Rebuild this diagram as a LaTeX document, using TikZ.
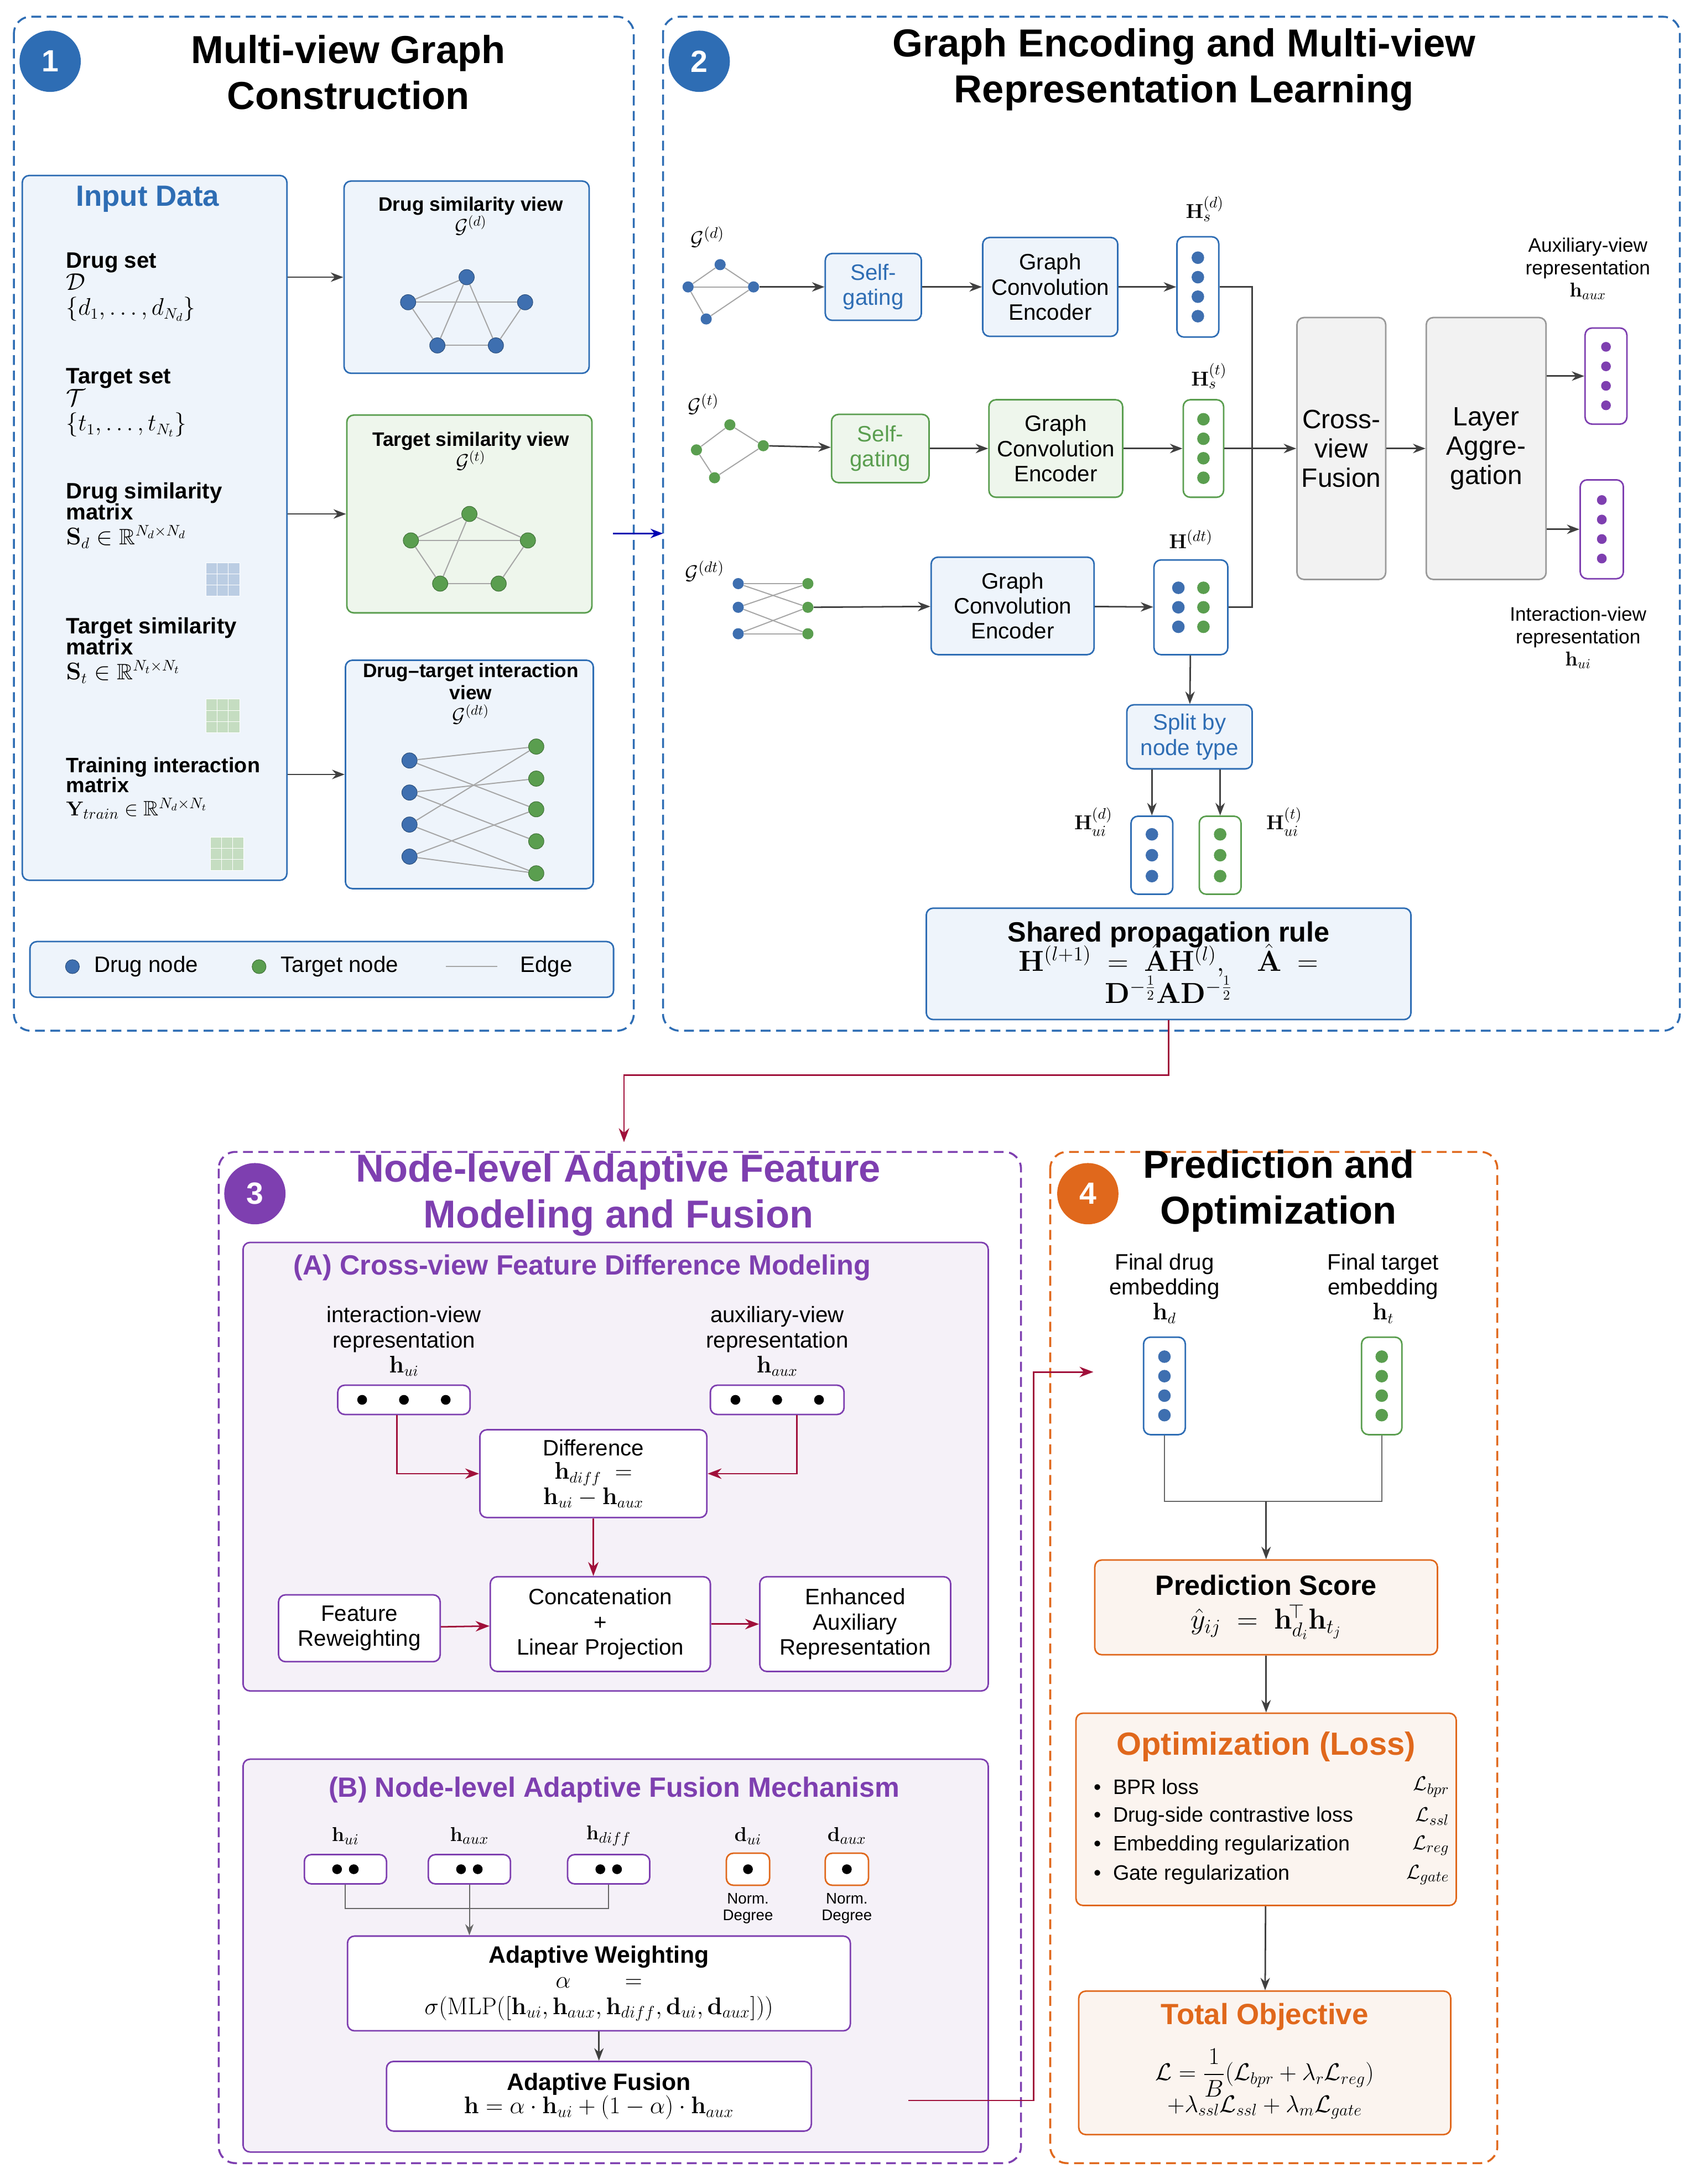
\documentclass[tikz,border=0pt]{standalone}
\usepackage[no-math]{fontspec}
\setmainfont{Liberation Sans}
\usepackage{amsmath,amssymb}
\usetikzlibrary{arrows.meta,positioning,calc}
\definecolor{cblue}{HTML}{2E6DB4}
\definecolor{cdrug}{HTML}{3E6FB0}
\definecolor{cgreen}{HTML}{5A9E4F}
\definecolor{cpurple}{HTML}{7E3FB0}
\definecolor{corange}{HTML}{E0681C}
\definecolor{cred}{HTML}{A0103A}
\definecolor{lblue}{HTML}{EEF4FB}
\definecolor{lgreen}{HTML}{EEF6EC}
\definecolor{lpurple}{HTML}{F5F1F8}
\definecolor{lorange}{HTML}{FBF4EF}
\tikzset{
  panel/.style={draw=#1, dash pattern=on 7pt off 4pt, line width=1.4pt, rounded corners=12pt},
  badge/.style={circle, fill=#1, text=white, minimum size=44pt, inner sep=0pt, font=\fontsize{22}{24}\selectfont\bfseries},
  ptitle/.style={align=center, font=\fontsize{28}{33}\selectfont\bfseries},
  box/.style={draw=#1, line width=1.1pt, rounded corners=5pt, align=center, font=\fontsize{16}{18}\selectfont},
  vec/.style={draw=#1, line width=1.1pt, rounded corners=5pt, fill=white, inner sep=0pt},
  dn/.style={circle, fill=cdrug, draw=cdrug!70!black, inner sep=0pt, minimum size=11pt},
  tn/.style={circle, fill=cgreen, draw=cgreen!70!black, inner sep=0pt, minimum size=11pt},
  sn/.style={circle, fill=cdrug, inner sep=0pt, minimum size=8pt},
  edge/.style={draw=gray!70, line width=0.8pt},
  arr/.style={-{Stealth[length=9pt]}, line width=1.1pt, draw=black!75},
  rarr/.style={-{Stealth[length=10pt]}, line width=1.1pt, draw=cred},
  lbl/.style={align=center, font=\fontsize{15}{17}\selectfont},
}
\begin{document}
\begin{tikzpicture}[x=1pt,y=-1pt]
\useasboundingbox[fill=white] (0,0) rectangle (1213,1568);

% panel 1
\draw[panel=cblue] (10,12) rectangle (455,740);
\node[badge=cblue] (b1) at (36,44) {1};
\node[ptitle] (t1) at (250,52) {Multi-view Graph\\Construction};
\node[box=cblue, fill=lblue, minimum width=190pt, minimum height=506pt] (inp) at (111,379) {};
\node[font=\fontsize{21}{23}\selectfont\bfseries, text=cblue] (inpt) at (106,143) {Input Data};
\node[lbl, anchor=west, align=left, font=\fontsize{16}{18}\selectfont] (ds) at (44,206) {\textbf{Drug set}\\[-2pt]$\mathcal{D}$\\$\{d_1,\ldots,d_{N_d}\}$};
\node[lbl, anchor=west, align=left, font=\fontsize{16}{18}\selectfont] (ts) at (44,289) {\textbf{Target set}\\[-2pt]$\mathcal{T}$\\$\{t_1,\ldots,t_{N_t}\}$};
\node[lbl, anchor=west, align=left, font=\fontsize{16}{18}\selectfont] (dsm) at (44,370) {\textbf{Drug similarity}\\[-3pt]\textbf{matrix}\\$\mathbf{S}_d\in\mathbb{R}^{N_d\times N_d}$};
\node[lbl, anchor=west, align=left, font=\fontsize{16}{18}\selectfont] (tsm) at (44,467) {\textbf{Target similarity}\\[-3pt]\textbf{matrix}\\$\mathbf{S}_t\in\mathbb{R}^{N_t\times N_t}$};
\node[lbl, anchor=west, align=left, font=\fontsize{15}{17}\selectfont] (tim) at (44,566) {\textbf{Training interaction}\\[-3pt]\textbf{matrix}\\$\mathbf{Y}_{train}\in\mathbb{R}^{N_d\times N_t}$};
% small matrices
\foreach \mx/\my/\mc in {148/404/cdrug, 148/502/cgreen, 151/601/cgreen}
  \foreach \i in {0,1,2}
    \foreach \j in {0,1,2}
      \fill[\mc!35!white, draw=white] (\mx+\i*8,\my+\j*8) rectangle ++(8,8);

\node[box=cblue, fill=lblue, minimum width=176pt, minimum height=138pt] (dv) at (335,199) {};
\node[font=\fontsize{14}{16}\selectfont\bfseries, align=center] (dvt) at (338,155) {Drug similarity view\\$\mathcal{G}^{(d)}$};
\node[dn] (d1) at (335,199) {}; \node[dn] (d2) at (293,217) {}; \node[dn] (d3) at (377,217) {};
\node[dn] (d4) at (314,248) {}; \node[dn] (d5) at (356,248) {};
\foreach \u/\v in {d1/d2,d1/d4,d1/d5,d2/d3,d2/d4,d4/d5,d3/d5} \draw[edge] (\u) -- (\v);

\node[box=cgreen, fill=lgreen, minimum width=176pt, minimum height=142pt] (tv) at (337,369) {};
\node[font=\fontsize{14}{16}\selectfont\bfseries, align=center] (tvt) at (338,324) {Target similarity view\\$\mathcal{G}^{(t)}$};
\node[tn] (g1) at (337,369) {}; \node[tn] (g2) at (295,388) {}; \node[tn] (g3) at (379,388) {};
\node[tn] (g4) at (316,419) {}; \node[tn] (g5) at (358,419) {};
\foreach \u/\v in {g1/g2,g1/g4,g1/g3,g2/g3,g2/g4,g4/g5,g3/g5} \draw[edge] (\u) -- (\v);

\node[box=cblue, fill=lblue, minimum width=178pt, minimum height=164pt] (iv) at (337,556) {};
\node[font=\fontsize{14}{16}\selectfont\bfseries, align=center] (ivt) at (338,498) {Drug--target interaction\\view\\$\mathcal{G}^{(dt)}$};
\foreach \k/\y in {1/546,2/569,3/592,4/615} \node[dn] (l\k) at (294,\y) {};
\foreach \k/\y in {1/536,2/559,3/581,4/604,5/627} \node[tn] (r\k) at (385,\y) {};
\foreach \u/\v in {l1/r1,l1/r3,l2/r2,l2/r4,l3/r1,l3/r5,l4/r3,l4/r5} \draw[edge] (\u) -- (\v);

\draw[arr] (inp.east |- dv.west) -- (dv.west);
\draw[arr] (inp.east |- tv.west) -- (tv.west);
\draw[arr] (inp.east |- iv.west) -- (iv.west);

\node[box=cblue, fill=lblue, minimum width=419pt, minimum height=40pt] (leg) at (231,696) {};
\node[dn, minimum size=10pt] (lg1) at (52,694) {};
\node[lbl, font=\fontsize{16}{18}\selectfont, anchor=west] (lg1t) at (64,694) {Drug node};
\node[tn, minimum size=10pt] (lg2) at (186,694) {};
\node[lbl, font=\fontsize{16}{18}\selectfont, anchor=west] (lg2t) at (198,694) {Target node};
\coordinate (lg3) at (320,694); \coordinate (lg3e) at (357,694);
\draw[edge] (lg3) -- (lg3e);
\node[lbl, font=\fontsize{16}{18}\selectfont, anchor=west] (lg3t) at (370,694) {Edge};

% panel 2
\draw[panel=cblue] (476,12) rectangle (1206,740);
\coordinate (pa) at (440,383); \coordinate (pb) at (476,383);
\draw[-{Stealth[length=9pt]}, line width=1.1pt, draw=blue!70!black] (pa) -- (pb);
\node[badge=cblue] (b2) at (502,44) {2};
\node[ptitle] (t2) at (850,50) {Graph Encoding and Multi-view\\Representation Learning};

% row 1
\node[font=\fontsize{15}{17}\selectfont] (gdl) at (508,170) {$\mathcal{G}^{(d)}$};
\node[sn] (p1) at (517,190) {}; \node[sn] (p2) at (494,206) {}; \node[sn] (p3) at (541,206) {}; \node[sn] (p4) at (507,229) {};
\foreach \u/\v in {p1/p2,p1/p3,p2/p3,p2/p4,p4/p3} \draw[edge] (\u) -- (\v);
\node[box=cblue, fill=lblue, text=cblue, minimum width=69pt, minimum height=48pt] (sg1) at (627,206) {Self-\\gating};
\node[box=cblue, fill=lblue, minimum width=97pt, minimum height=71pt] (gc1) at (754,206) {Graph\\Convolution\\Encoder};
\node[vec=cblue, minimum width=30pt, minimum height=72pt] (hs1) at (860,206) {};
\foreach \y in {-21,-7,7,21} \fill[cdrug] ($(hs1)+(0,\y)$) circle (4.5pt);
\node[font=\fontsize{15}{17}\selectfont] (hs1l) at (865,150) {$\mathbf{H}_s^{(d)}$};
\draw[arr] (p3) -- (sg1);
\draw[arr] (sg1) -- (gc1);
\draw[arr] (gc1) -- (hs1);

% row 2
\node[font=\fontsize{15}{17}\selectfont] (gtl) at (505,290) {$\mathcal{G}^{(t)}$};
\tikzset{sn/.append style={fill=cgreen}}
\node[sn] (q1) at (524,305) {}; \node[sn] (q2) at (500,323) {}; \node[sn] (q3) at (548,320) {}; \node[sn] (q4) at (513,343) {};
\foreach \u/\v in {q1/q2,q1/q3,q2/q4,q4/q3} \draw[edge] (\u) -- (\v);
\node[box=cgreen, fill=lgreen, text=cgreen, minimum width=70pt, minimum height=49pt] (sg2) at (632,322) {Self-\\gating};
\node[box=cgreen, fill=lgreen, minimum width=96pt, minimum height=70pt] (gc2) at (758,322) {Graph\\Convolution\\Encoder};
\node[vec=cgreen, minimum width=29pt, minimum height=70pt] (hs2) at (864,322) {};
\foreach \y in {-21,-7,7,21} \fill[cgreen] ($(hs2)+(0,\y)$) circle (4.5pt);
\node[font=\fontsize{15}{17}\selectfont] (hs2l) at (868,270) {$\mathbf{H}_s^{(t)}$};
\draw[arr] (q3) -- (sg2);
\draw[arr] (sg2) -- (gc2);
\draw[arr] (gc2) -- (hs2);

% row 3
\node[font=\fontsize{15}{17}\selectfont] (gdtl) at (506,410) {$\mathcal{G}^{(dt)}$};
\foreach \k/\y in {1/419,2/436,3/455} {
  \node[sn, fill=cdrug] (u\k) at (530,\y) {};
  \node[sn] (w\k) at (580,\y) {};
}
\foreach \u/\v in {u1/w1,u1/w2,u2/w1,u2/w3,u3/w2,u3/w3} \draw[edge] (\u) -- (\v);
\node[box=cblue, fill=lblue, minimum width=117pt, minimum height=70pt] (gc3) at (727,435) {Graph\\Convolution\\Encoder};
\node[vec=cblue, minimum width=53pt, minimum height=68pt] (hdt) at (855,436) {};
\foreach \y in {-14,0,14} {
  \fill[cdrug] ($(hdt)+(-9,\y)$) circle (4.5pt);
  \fill[cgreen] ($(hdt)+(9,\y)$) circle (4.5pt);
}
\node[font=\fontsize{15}{17}\selectfont] (hdtl) at (855,387) {$\mathbf{H}^{(dt)}$};
\draw[arr] (w2) -- (gc3);
\draw[arr] (gc3) -- (hdt);

% fusion
\node[box=black!40, fill=black!5, minimum width=61pt, minimum height=188pt, font=\fontsize{19}{21}\selectfont] (cvf) at (963,322) {Cross-\\view\\Fusion};
\node[box=black!40, fill=black!5, minimum width=86pt, minimum height=188pt, font=\fontsize{19}{21}\selectfont] (lag) at (1067,322) {Layer\\Aggre-\\gation};
\coordinate (mg) at (899,322);
\draw[line width=1.1pt, black!75] (hs1.east) -| (mg);
\draw[line width=1.1pt, black!75] (hdt.east) -| (mg);
\draw[arr] (hs2.east) -- (cvf.west |- mg);
\draw[arr] (cvf) -- (lag);
\node[vec=cpurple, minimum width=30pt, minimum height=69pt] (haux) at (1153,270) {};
\node[vec=cpurple, minimum width=31pt, minimum height=71pt] (hui) at (1150,380) {};
\foreach \y in {-21,-7,7,21} {
  \fill[cpurple] ($(haux)+(0,\y)$) circle (3.5pt);
  \fill[cpurple] ($(hui)+(0,\y)$) circle (3.5pt);
}
\draw[arr] (lag.east |- haux) -- (haux);
\draw[arr] (lag.east |- hui) -- (hui);
\node[lbl, font=\fontsize{14}{16}\selectfont] (hauxl) at (1140,193) {Auxiliary-view\\representation\\$\mathbf{h}_{aux}$};
\node[lbl, font=\fontsize{14}{16}\selectfont] (huil) at (1133,458) {Interaction-view\\representation\\$\mathbf{h}_{ui}$};

% split
\node[box=cblue, fill=lblue, text=cblue, minimum width=90pt, minimum height=46pt] (spl) at (854,529) {Split by\\node type};
\draw[arr] (hdt) -- (spl);
\node[vec=cblue, minimum width=30pt, minimum height=56pt] (hud) at (827,614) {};
\node[vec=cgreen, minimum width=30pt, minimum height=56pt] (hut) at (876,614) {};
\foreach \y in {-15,0,15} {
  \fill[cdrug] ($(hud)+(0,\y)$) circle (4.5pt);
  \fill[cgreen] ($(hut)+(0,\y)$) circle (4.5pt);
}
\draw[arr] (spl.south -| hud) -- (hud);
\draw[arr] (spl.south -| hut) -- (hut);
\node[font=\fontsize{15}{17}\selectfont] (hudl) at (785,590) {$\mathbf{H}_{ui}^{(d)}$};
\node[font=\fontsize{15}{17}\selectfont] (hutl) at (922,590) {$\mathbf{H}_{ui}^{(t)}$};
\node[box=cblue, fill=lblue, minimum width=348pt, minimum height=80pt] (spr) at (839,692) {};
\node[align=center, font=\fontsize{20}{24}\selectfont] (sprt) at (839,691) {\textbf{Shared propagation rule}\\[-3pt]
  $\mathbf{H}^{(l+1)}\;=\;\hat{\mathbf{A}}\mathbf{H}^{(l)},\quad\hat{\mathbf{A}}\;=$\\[-1pt]
  $\mathbf{D}^{-\frac12}\mathbf{A}\mathbf{D}^{-\frac12}$};

% panel 3
\draw[panel=cpurple] (157,827) rectangle (733,1553);
\node[badge=cpurple] (b3) at (183,857) {3};
\node[ptitle, text=cpurple] (t3) at (444,858) {Node-level Adaptive Feature\\Modeling and Fusion};
\coordinate (k1) at (448,772); \coordinate (k2) at (448,820);
\draw[rarr] (spr.south) |- (k1) -- (k2);

\node[box=cpurple, fill=lpurple, minimum width=535pt, minimum height=322pt] (sa) at (442,1053) {};
\node[font=\fontsize{20}{22}\selectfont\bfseries, text=cpurple] (sat) at (418,910) {(A) Cross-view Feature Difference Modeling};
\node[lbl, font=\fontsize{16}{18}\selectfont] (iul) at (290,963) {interaction-view\\representation\\$\mathbf{h}_{ui}$};
\node[lbl, font=\fontsize{16}{18}\selectfont] (aul) at (558,963) {auxiliary-view\\representation\\$\mathbf{h}_{aux}$};
\node[vec=cpurple, minimum width=95pt, minimum height=21pt] (va) at (290,1005) {};
\node[vec=cpurple, minimum width=96pt, minimum height=21pt] (vb) at (558,1005) {};
\foreach \x in {-30,0,30} {
  \fill ($(va)+(\x,0)$) circle (3.5pt);
  \fill ($(vb)+(\x,0)$) circle (3.5pt);
}
\node[box=cpurple, fill=white, minimum width=163pt, minimum height=63pt, font=\fontsize{16}{19}\selectfont] (dif) at (426,1058) {Difference\\[-2pt]$\mathbf{h}_{diff}\;=$\\[-1pt]$\mathbf{h}_{ui}-\mathbf{h}_{aux}$};
\draw[rarr] ($(va.south)+(-5,0)$) |- (dif.west);
\draw[rarr] ($(vb.south)+(14,0)$) |- (dif.east);
\node[box=cpurple, fill=white, minimum width=158pt, minimum height=68pt] (cat) at (431,1166) {Concatenation\\+\\Linear Projection};
\node[box=cpurple, fill=white, minimum width=116pt, minimum height=48pt] (frw) at (258,1169) {Feature\\Reweighting};
\node[box=cpurple, fill=white, minimum width=137pt, minimum height=68pt] (enh) at (614,1166) {Enhanced\\Auxiliary\\Representation};
\draw[rarr] (dif) -- (dif |- cat.north);
\draw[rarr] (frw) -- (cat);
\draw[rarr] (cat) -- (enh);

\node[box=cpurple, fill=lpurple, minimum width=535pt, minimum height=282pt] (sb) at (442,1404) {};
\node[font=\fontsize{20}{22}\selectfont\bfseries, text=cpurple] (sbt) at (441,1285) {(B) Node-level Adaptive Fusion Mechanism};
\foreach \n/\x/\t in {e1/248/{\mathbf{h}_{ui}}, e2/337/{\mathbf{h}_{aux}}, e3/437/{\mathbf{h}_{diff}}} {
  \node[font=\fontsize{15}{17}\selectfont] (\n l) at (\x,1318) {$\t$};
  \node[vec=cpurple, minimum width=59pt, minimum height=21pt] (\n) at (\x,1342) {};
  \fill ($(\n)+(-6,0)$) circle (3.5pt);
  \fill ($(\n)+(6,0)$) circle (3.5pt);
}
\foreach \n/\x/\t in {f1/537/{\mathbf{d}_{ui}}, f2/608/{\mathbf{d}_{aux}}} {
  \node[font=\fontsize{15}{17}\selectfont] (\n l) at (\x,1318) {$\t$};
  \node[vec=corange, minimum width=31pt, minimum height=23pt] (\n) at (\x,1342) {};
  \fill (\n) circle (3.5pt);
  \node[align=center, font=\fontsize{11}{12}\selectfont] (\n d) at (\x,1370) {Norm.\\Degree};
}
\node[box=cpurple, fill=white, minimum width=361pt, minimum height=68pt, font=\fontsize{17}{20}\selectfont] (aw) at (430,1424) {\textbf{Adaptive Weighting}\\[-2pt]$\alpha\qquad=$\\[-1pt]$\sigma(\mathrm{MLP}([\mathbf{h}_{ui},\mathbf{h}_{aux},\mathbf{h}_{diff},\mathbf{d}_{ui},\mathbf{d}_{aux}]))$};
\coordinate (jn) at (337,1370);
\draw[line width=0.8pt, black!60] (e1.south) |- (jn) -| (e3.south);
\draw[-{Stealth[length=8pt]}, line width=0.8pt, black!60] (e2.south) -- (aw.north -| e2);
\node[box=cpurple, fill=white, minimum width=305pt, minimum height=50pt, font=\fontsize{17}{19}\selectfont] (af) at (430,1505) {\textbf{Adaptive Fusion}\\[-2pt]$\mathbf{h}=\alpha\cdot\mathbf{h}_{ui}+(1-\alpha)\cdot\mathbf{h}_{aux}$};
\draw[arr] (aw) -- (af);

% panel 4
\draw[panel=corange] (754,827) rectangle (1075,1553);
\node[badge=corange] (b4) at (781,857) {4};
\node[ptitle] (t4) at (918,855) {Prediction and\\Optimization};
\coordinate (fs) at (652,1508);
\coordinate (fm) at (742,1508);
\coordinate (fe) at (785,985);
\draw[rarr] (fs) -- (fm) |- (fe);
\node[lbl, font=\fontsize{16}{18}\selectfont] (fdl) at (836,925) {Final drug\\embedding\\$\mathbf{h}_d$};
\node[lbl, font=\fontsize{16}{18}\selectfont] (ftl) at (993,925) {Final target\\embedding\\$\mathbf{h}_t$};
\node[vec=cblue, minimum width=30pt, minimum height=70pt] (hd) at (836,995) {};
\node[vec=cgreen, minimum width=29pt, minimum height=70pt] (ht) at (992,995) {};
\foreach \y in {-21,-7,7,21} {
  \fill[cdrug] ($(hd)+(0,\y)$) circle (4.5pt);
  \fill[cgreen] ($(ht)+(0,\y)$) circle (4.5pt);
}
\node[box=corange, fill=lorange, minimum width=246pt, minimum height=68pt, font=\fontsize{20}{24}\selectfont] (ps) at (909,1154) {\textbf{Prediction Score}\\$\hat{y}_{ij}\;=\;\mathbf{h}_{d_i}^{\!\top}\mathbf{h}_{t_j}$};
\coordinate (jp) at (909,1078);
\draw[line width=0.8pt, black!60] (hd.south) |- (jp) -| (ht.south);
\draw[arr] (jp) -- (ps);
\node[box=corange, fill=lorange, minimum width=273pt, minimum height=138pt] (opt) at (909,1299) {};
\node[font=\fontsize{23}{25}\selectfont\bfseries, text=corange] (optt) at (909,1254) {Optimization (Loss)};
\foreach \y/\a/\b in {1283/{BPR loss}/{\mathcal{L}_{bpr}}, 1304/{Drug-side contrastive loss}/{\mathcal{L}_{ssl}}, 1325/{Embedding regularization}/{\mathcal{L}_{reg}}, 1346/{Gate regularization}/{\mathcal{L}_{gate}}} {
  \node[anchor=west, font=\fontsize{15}{17}\selectfont] at (782,\y) {\textbullet\ \ \a};
  \node[anchor=east, font=\fontsize{15}{17}\selectfont] at (1044,\y) {$\b$};
}
\draw[arr] (ps) -- (opt);
\node[box=corange, fill=lorange, minimum width=267pt, minimum height=103pt] (tob) at (908,1481) {};
\node[font=\fontsize{21}{23}\selectfont\bfseries, text=corange] (tobt) at (908,1448) {Total Objective};
\node[align=center, font=\fontsize{18}{22}\selectfont] (tobf) at (908,1496) {$\mathcal{L}=\dfrac{1}{B}(\mathcal{L}_{bpr}+\lambda_r\mathcal{L}_{reg})$\\[-2pt]$+\lambda_{ssl}\mathcal{L}_{ssl}+\lambda_m\mathcal{L}_{gate}$};
\draw[arr] (opt) -- (tob);
\end{tikzpicture}
\end{document}
